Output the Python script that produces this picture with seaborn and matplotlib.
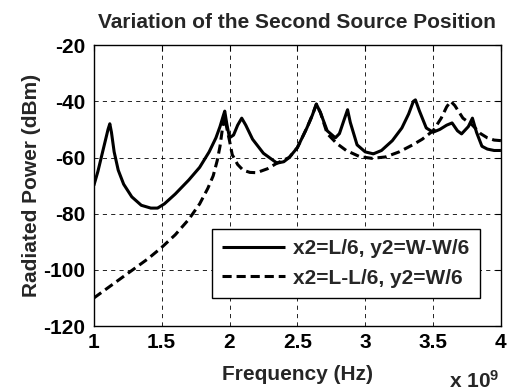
import pandas as pd
import matplotlib
matplotlib.use("Agg")
import matplotlib.pyplot as plt
import seaborn as sns

# Curve 1: x2=L/6, y2=W-W/6 (frequency in GHz, power in dBm)
freq_a = [1.00, 1.03, 1.06, 1.09, 1.105, 1.118, 1.13, 1.15, 1.18, 1.22, 1.28, 1.35, 1.42,
          1.47, 1.52, 1.60, 1.70, 1.78, 1.85, 1.90, 1.93, 1.955, 1.965, 1.98, 2.00, 2.03,
          2.06, 2.09, 2.12, 2.17, 2.25, 2.35, 2.40, 2.44, 2.50, 2.57, 2.61, 2.64, 2.67,
          2.72, 2.78, 2.81, 2.845, 2.87, 2.89, 2.94, 3.00, 3.06, 3.12, 3.20, 3.27, 3.32,
          3.355, 3.37, 3.40, 3.45, 3.50, 3.55, 3.60, 3.64, 3.68, 3.71, 3.76, 3.79, 3.82,
          3.86, 3.90, 3.95, 4.00]
power_a = [-70, -65, -59, -53, -50, -48, -51, -58, -64.5, -69.5, -74, -77, -78,
           -78, -76.5, -73, -68, -63.5, -58, -53, -49, -45, -43.5, -48, -53, -52,
           -48.5, -46, -48.5, -53.5, -58.5, -62, -61.5, -60, -56.5, -49.5, -45, -41, -44,
           -50.5, -53, -51.5, -46.5, -43, -47.5, -55.5, -58, -58.7, -57.5, -54, -49.5, -44.5,
           -40, -39.5, -43.5, -49.5, -51, -50, -48.5, -47.7, -50.5, -51.6, -49, -46, -51,
           -56, -57, -57.5, -57.5]

# Curve 2: x2=L-L/6, y2=W/6
freq_b = [1.00, 1.10, 1.20, 1.30, 1.40, 1.50, 1.60, 1.70, 1.78, 1.84, 1.88, 1.91, 1.93,
          1.95, 1.965, 1.98, 2.00, 2.02, 2.06, 2.10, 2.15, 2.20, 2.28, 2.35, 2.44, 2.50,
          2.57, 2.61, 2.64, 2.67, 2.72, 2.79, 2.86, 2.96, 3.05, 3.15, 3.25, 3.35, 3.42,
          3.50, 3.56, 3.60, 3.63, 3.66, 3.72, 3.79, 3.85, 3.90, 3.95, 4.00]
power_b = [-110, -106.5, -103, -99.5, -96, -92, -87.5, -82, -76.5, -71, -66.5, -61, -56,
           -49, -45.5, -49.5, -54, -59, -62.5, -64.5, -65.3, -65.4, -64, -62, -60, -56.5,
           -49.5, -45, -41, -44, -51.5, -55, -57.5, -59.7, -60.3, -59.8, -58, -55.5, -53.5,
           -50.5, -46, -42, -40, -41.5, -46, -48.5, -51.5, -53, -53.8, -54]

labels = ["x2=L/6, y2=W-W/6", "x2=L-L/6, y2=W/6"]

df = pd.concat([
    pd.DataFrame({"freq": freq_a, "power": power_a, "case": labels[0]}),
    pd.DataFrame({"freq": freq_b, "power": power_b, "case": labels[1]}),
], ignore_index=True)

sns.set_theme(style="white")
plt.rcParams["font.family"] = ["Liberation Sans", "DejaVu Sans"]
plt.rcParams["font.weight"] = "bold"
plt.rcParams["axes.unicode_minus"] = False
plt.rcParams["mathtext.fontset"] = "custom"
plt.rcParams["mathtext.bf"] = "Liberation Sans:bold"
plt.rcParams["mathtext.rm"] = "Liberation Sans:bold"
plt.rcParams["mathtext.default"] = "bf"

FS = 15

fig = plt.figure(figsize=(5.07, 3.92), dpi=100)
ax = fig.add_axes([0.185, 0.168, 0.803, 0.717])

sns.lineplot(data=df, x="freq", y="power", hue="case", style="case",
             palette=["black", "black"], dashes=[(1, 0), (3, 1.6)],
             linewidth=2.2, sort=False, ax=ax, legend=True)

ax.set_xlim(1, 4)
ax.set_ylim(-120, -20)
ax.set_xticks([1, 1.5, 2, 2.5, 3, 3.5, 4])
ax.set_xticklabels(["1", "1.5", "2", "2.5", "3", "3.5", "4"])
ax.set_yticks([-120, -100, -80, -60, -40, -20])
ax.set_yticklabels(["-120", "-100", "-80", "-60", "-40", "-20"])

ax.grid(True, color="black", linestyle=(0, (5, 5)), linewidth=0.6)
ax.tick_params(direction="in", length=4, width=0.8, colors="black",
               labelsize=FS, top=True, right=True)
ax.tick_params(axis="x", pad=5)
ax.tick_params(axis="y", pad=6)
for lbl in ax.get_xticklabels() + ax.get_yticklabels():
    lbl.set_fontweight("bold")
for sp in ax.spines.values():
    sp.set_color("black")
    sp.set_linewidth(1.0)

ax.set_title("Variation of the Second Source Position", fontsize=FS,
             fontweight="bold", pad=12)
ax.set_xlabel("Frequency (Hz)", fontsize=FS, fontweight="bold", labelpad=9)
ax.set_ylabel("Radiated Power (dBm)", fontsize=FS, fontweight="bold", labelpad=2)

leg = ax.legend(loc="lower right", bbox_to_anchor=(0.948, 0.1), fontsize=FS,
                frameon=True, fancybox=False, handlelength=3.0,
                borderpad=0.5, labelspacing=0.5, handletextpad=0.4,
                borderaxespad=0)
leg.get_frame().set_edgecolor("black")
leg.get_frame().set_linewidth(1.0)
leg.get_frame().set_alpha(1)
for t in leg.get_texts():
    t.set_fontweight("bold")

fig.text(0.985, 0.01, "x 10$^9$", ha="right", va="baseline",
         fontsize=FS, fontweight="bold")

fig.savefig("out.png", dpi=100, facecolor="white")
